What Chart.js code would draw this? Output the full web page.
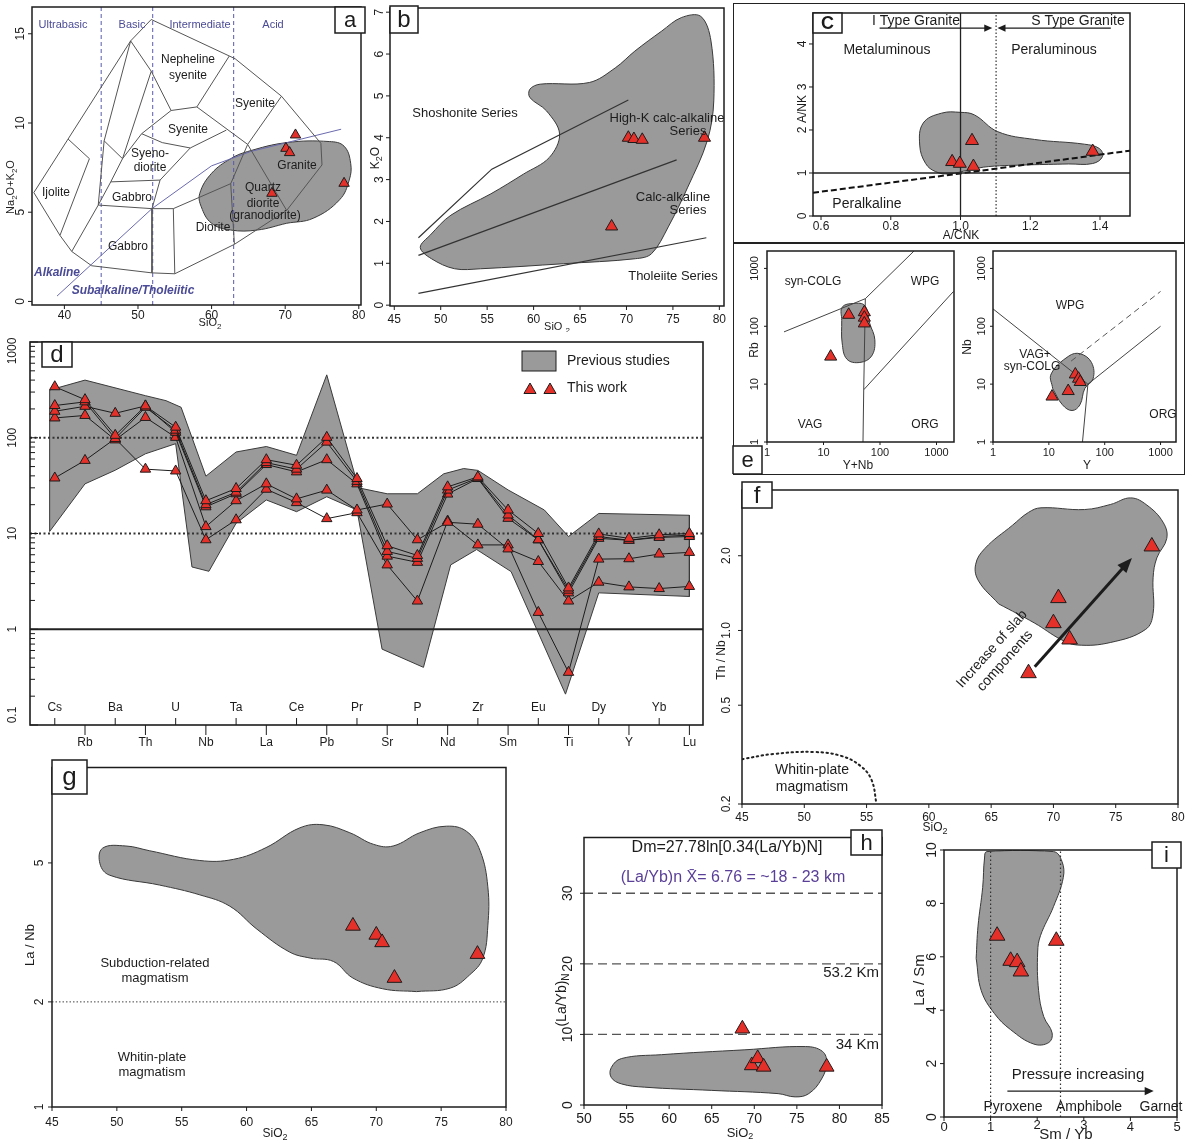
<!DOCTYPE html>
<html><head><meta charset="utf-8">
<script src="https://cdn.jsdelivr.net/npm/chart.js@4.4.1/dist/chart.umd.min.js"></script>
<style>
html,body{margin:0;padding:0;background:#fff}
body{width:1190px;height:1146px;position:relative;overflow:hidden}
canvas{position:absolute}
.fr{position:absolute;box-sizing:border-box;border:1.5px solid #222}
</style></head><body>
<div class="fr" style="left:733px;top:3px;width:452px;height:472px"></div>
<div style="position:absolute;left:733px;top:242px;width:452px;height:1.5px;background:#222"></div>
<script>
// ================= DATA =================
// (a) TAS diagram
const A_SIO2 = [68.2, 70.1, 70.6, 71.4, 78.0];
const A_ALK  = [6.06, 8.58, 8.34, 9.33, 6.62];
const A_FIELD = [[70.2,4.38],[66.2,4.0],[62.6,4.0],[60.0,4.38],[58.6,5.3],[58.4,6.06],[60.0,7.18],[62.6,8.0],[64.9,8.4],[70.2,8.9],[76.0,8.96],[78.0,8.7],[78.9,7.74],[78.7,6.8],[77.4,5.7],[73.8,4.66]];
const A_TAS = [
 [[35.85,6.1],[40.5,9.1],[49.0,14.6],[51.8,15.8],[63.2,13.6],[69.5,11.5],[74.85,8.86],[75.0,7.65],[70.2,5.1],[63.1,3.2],[55.0,1.55],[51.9,1.6],[43.7,2.0],[41.0,2.8],[39.4,3.7],[35.85,6.1]],
 [[40.5,9.1],[43.4,8.0],[39.4,3.7]],
 [[49.0,14.6],[45.4,9.0],[44.6,5.4],[41.0,2.8]],
 [[45.4,9.0],[47.9,8.0]],
 [[51.8,12.9],[47.9,8.0],[46.3,6.7],[44.6,5.4]],
 [[49.0,14.6],[51.8,12.9],[54.5,10.7],[58.0,10.9],[64.9,8.8]],
 [[58.0,10.9],[62.4,13.75]],
 [[69.5,11.5],[64.9,8.8],[70.2,5.1]],
 [[64.9,8.8],[62.6,6.6],[63.1,3.2]],
 [[54.5,10.7],[50.5,9.4],[47.9,8.0]],
 [[50.5,9.4],[53.3,8.9],[57.1,8.6],[62.0,9.6]],
 [[57.1,8.6],[53.0,6.8],[51.9,5.2]],
 [[46.3,6.7],[53.0,6.8]],
 [[44.6,5.4],[51.9,5.2],[54.8,5.2],[62.6,6.6]],
 [[51.9,5.2],[51.9,1.6]],
 [[54.8,5.2],[55.0,1.55]]
];
const A_ALK_LINE = [[39.0,0.3],[51.9,5.2],[60.0,7.6],[65.3,8.4],[77.6,9.65]];
const A_DIVS = [45, 52, 63];
const A_XT = [40,50,60,70,80], A_YT = [0,5,10,15];

// (b) K2O vs SiO2
const B_SIO2 = [68.4, 70.2, 70.8, 71.7, 78.4];
const B_K2O  = [1.88, 4.0, 3.97, 3.95, 4.0];
const B_FIELD = [[63.2,0.99],[54.3,0.87],[51.5,0.87],[49.0,1.11],[47.8,1.38],[48.9,1.68],[51.1,2.15],[55.4,2.66],[58.9,3.13],[61.7,3.53],[62.8,4.09],[61.4,4.64],[59.6,4.96],[59.6,5.16],[60.7,5.28],[66.0,5.32],[68.8,5.67],[70.9,6.07],[73.8,6.55],[75.9,6.87],[78.0,6.9],[79.1,6.31],[79.4,4.88],[78.7,3.93],[76.6,2.82],[74.5,1.87],[72.7,1.23],[70.96,1.11]];
const B_LINES = [[[47.6,1.61],[55.5,3.25],[70.2,4.9]],[[47.6,1.19],[75.4,3.47]],[[47.6,0.28],[78.6,1.61]]];
const B_XT = [45,50,55,60,65,70,75,80], B_YT = [0,1,2,3,4,5,6,7];

// (c) A/NK vs A/CNK
const C_ACNK = [0.976, 0.998, 1.033, 1.037, 1.379];
const C_ANK  = [1.26, 1.22, 1.75, 1.15, 1.5];
const C_FIELD = [[1.195,1.19],[1.081,1.15],[1.024,1.07],[0.967,0.98],[0.929,1.03],[0.9,1.22],[0.883,1.65],[0.893,2.16],[0.945,2.39],[1.0,2.41],[1.04,2.35],[1.107,1.96],[1.212,1.78],[1.355,1.67],[1.398,1.57],[1.407,1.38],[1.379,1.22],[1.31,1.21]];
const C_DASH = [[0.577,0.54],[1.0,0.99],[1.486,1.52]];
const C_XT = [0.6,0.8,1.0,1.2,1.4], C_YT = [0,1,2,3,4];

// (d) spider diagram
const D_ELEMENTS = ['Cs','Rb','Ba','Th','U','Nb','Ta','La','Ce','Pb','Pr','Sr','P','Nd','Zr','Sm','Eu','Ti','Dy','Y','Yb','Lu'];
const D_S1 = [341,250,106,215,129,22,29.5,59,51.6,101,37.5,7.45,5.9,30.7,39,17.6,10,2.7,9.9,8.9,9.7,10];
const D_S2 = [217,237,98,208,120,20,27,55,47,90,35,6.5,5.5,28.4,38,15.6,8.6,2.56,9.3,8.5,9.1,9.3];
const D_S3 = [189,213,180,215,114,19,26,52.5,44,59,33,5.8,5.0,25.8,37.5,14.4,8.6,2.4,8.9,8.5,9.3,9.6];
const D_S4 = [161,171,95,163,101,11.8,22,33,23,28.4,17.6,20.3,8.6,13.1,12.5,6.9,5.1,1.97,3.1,2.77,2.66,2.8];
const D_S5 = [38,58,98,47,45,8.6,13.9,29,21,14.3,16.5,4.7,1.97,13.5,7.6,7.6,1.5,0.355,5.4,5.45,6.1,6.35];
const D_UPPER = [[-0.17,315],[1,400],[3,275],[3.68,244],[4.18,208],[5,39.7],[6,71],[7,81],[8,65.6],[9,454],[10.05,30],[11,26],[12,26],[12.87,42],[13.53,47.7],[14,45.6],[15,28.5],[16.2,17.6],[17,9.3],[18,16.2],[21,15.5]];
const D_LOWER = [[-0.17,10.5],[1,33],[2,45.8],[3,68],[4,86.7],[4.54,4.47],[5.1,4.03],[6,12.8],[7,22.4],[8,16.9],[9,24.2],[10,17.6],[10.83,0.62],[12.2,0.4],[13.1,4.7],[13.96,6.8],[15.1,4.0],[16.9,0.21],[18,2.4],[21,2.2]];
const D_YT = [0.1,1,10,100,1000];
const D_REF = [100, 10];

// (e) Pearce discrimination
const E1_YNB = [27.9, 52.8, 52.8, 52.8, 13.4];
const E1_RB  = [158, 175, 141, 112, 29.9];
const E1_FIELD = [[21,126],[21.4,214],[34,248],[54,227],[66,111],[81,58.5],[71,30.6],[44,23.7],[26,27],[21.4,51.5]];
const E1_LINES = [[[2,80],[55,300]],[[55,300],[400,2000]],[[55,300],[51.5,8],[50,1]],[[51.5,8],[2000,400]]];
const E2_Y  = [11.4, 22.2, 29.8, 34, 36.4];
const E2_NB = [6.1, 7.6, 14.7, 12.4, 10.9];
const E2_FIELD = [[11.7,8.4],[11,15],[22.8,30.6],[36.4,33.5],[58,23.7],[62,12.4],[44,8.4],[36,4.4],[26,3.5],[17.5,4.4]];
const E2_LINES = [[[1,200],[50,10]],[[50,10],[1000,100]],[[50,10],[40,1]]];
const E2_DASH = [[25,25],[1000,400]];
const E_T = [1,10,100,1000];

// (f) Th/Nb vs SiO2
const F_SIO2 = [68.0, 70.0, 70.4, 71.3, 77.9];
const F_THNB = [0.673, 1.07, 1.35, 0.92, 2.18];
const F_FIELD = [[65.6,1.28],[64.0,1.58],[63.75,1.84],[64.5,2.14],[66.7,2.65],[68.0,2.99],[69.0,3.12],[72.5,3.07],[74.6,3.22],[76.2,3.42],[77.5,3.2],[78.8,2.73],[79.1,2.35],[78.3,1.96],[78.0,1.63],[78.0,1.17],[77.4,1.01],[74.6,0.895],[71.9,0.874],[70.6,0.92],[68.5,1.07]];
const F_WPM = [[45,0.303],[47.5,0.318],[50.8,0.324],[53,0.312],[54.5,0.285],[55.4,0.25],[55.8,0.2]];
const F_ARROW = [[68.5,0.715],[76.3,1.96]];
const F_XT = [45,50,55,60,65,70,75,80], F_YT = [0.2,0.5,1.0,2.0];

// (g) La/Nb vs SiO2
const G_SIO2 = [68.2, 70.0, 70.45, 71.4, 77.8];
const G_LANB = [3.3, 3.11, 2.96, 2.34, 2.74];
const G_FIELD = [[73.1,2.14],[70.5,2.18],[68.2,2.34],[66.7,2.61],[64.9,2.67],[63.3,2.78],[60.8,3.23],[58.7,3.76],[56.4,4.05],[53.3,4.32],[49.45,4.61],[48.7,4.97],[48.9,5.51],[50.7,5.59],[52.5,5.42],[56.4,5.08],[59.0,5.12],[61.5,5.53],[64.1,6.3],[65.9,6.43],[67.96,6.1],[69.8,5.65],[71.3,5.59],[73.35,6.1],[75.4,6.37],[76.95,6.16],[78.0,5.42],[78.6,4.27],[78.6,3.3],[78.2,2.66],[77.2,2.39],[75.7,2.19]];
const G_LIMIT = 2;
const G_XT = [45,50,55,60,65,70,75,80], G_YT = [1,2,5];

// (h) (La/Yb)N vs SiO2
const H_SIO2 = [68.6, 69.7, 70.4, 71.1, 78.5];
const H_LAYB = [10.8, 5.6, 6.6, 5.4, 5.4];
const H_FIELD = [[65.0,2.07],[57.1,2.53],[54.4,2.99],[53.2,3.91],[53.2,5.29],[54.4,6.58],[59.1,7.13],[68.9,7.82],[76.0,8.28],[78.0,7.6],[78.5,5.98],[77.9,3.68],[76.4,1.61],[74.8,1.15],[72.8,1.61]];
const H_DEPTHS = [10, 20, 30];
const H_XT = [50,55,60,65,70,75,80,85], H_YT = [0,10,20,30];

// (i) La/Sm vs Sm/Yb
const I_SMYB = [1.14, 1.43, 1.57, 1.65, 2.41];
const I_LASM = [6.79, 5.85, 5.8, 5.45, 6.6];
const I_FIELD = [[0.69,5.94],[0.73,7.15],[0.83,8.6],[0.87,9.7],[0.92,9.94],[2.35,9.94],[2.53,9.58],[2.56,8.97],[2.35,7.88],[2.07,6.79],[2.01,6.18],[2.03,4.73],[2.14,3.76],[2.32,3.15],[2.25,2.79],[1.93,2.73],[1.43,3.27],[1.08,3.88],[0.8,4.73]];
const I_DIVS = [1, 2.5];
const I_ARROW = [[1.36,0.97],[4.5,0.97]];
const I_XT = [0,1,2,3,4,5], I_YT = [0,2,4,6,8,10];

// ================= HELPERS =================
const FAM = "'Liberation Sans', Arial, Helvetica, sans-serif";
const RED = '#e5302a', FIELD = '#9a9a9a', INK = '#1c1c1c', PURPLE = '#4a4a96';

const P = arr => arr.map(([x,y]) => ({x, y}));
const zip = (xs, ys) => xs.map((x,i) => ({x, y: ys[i]}));
function dsField(pts, tension){ const d = P(pts); d.push({...d[0]});
  return {data:d, showLine:true, fill:'shape', backgroundColor:FIELD, borderColor:'#3a3a3a', borderWidth:1, pointRadius:0, pointHoverRadius:0, tension:(tension===undefined?0.4:tension), order:9}; }
function dsLine(pts, o){ return Object.assign({data:P(pts), showLine:true, fill:false, borderColor:'#4a4a4a', borderWidth:1, pointRadius:0, pointHoverRadius:0, tension:0, order:5}, o||{}); }
function dsTri(xs, ys, r){ return {data:zip(xs,ys), showLine:false, pointStyle:'triangle', pointRadius:r, pointHoverRadius:r, backgroundColor:RED, borderColor:INK, borderWidth:1, order:0}; }

function rich(ctx, s, x, y, size, align, pre){
  const parts = []; const re = /_\{([^}]*)\}/g; let last = 0, m;
  while ((m = re.exec(s))) { if (m.index > last) parts.push({t:s.slice(last, m.index), sub:0}); parts.push({t:m[1], sub:1}); last = re.lastIndex; }
  if (last < s.length) parts.push({t:s.slice(last), sub:0});
  const f = p => ((pre||'') + ' ' + (p.sub ? Math.round(size*0.72) : size) + 'px ' + FAM).trim();
  let w = 0; parts.forEach(p => { ctx.font = f(p); p.w = ctx.measureText(p.t).width; w += p.w; });
  let cx = align === 'center' ? x - w/2 : align === 'right' ? x - w : x;
  ctx.textAlign = 'left'; ctx.textBaseline = 'middle';
  parts.forEach(p => { ctx.font = f(p); ctx.fillText(p.t, cx, y + (p.sub ? size*0.3 : 0)); cx += p.w; });
}

function G(ch, ox, oy){
  const ctx = ch.ctx, a = ch.chartArea, sx = ch.scales.x, sy = ch.scales.y;
  const X = v => sx.getPixelForValue(v), Y = v => sy.getPixelForValue(v);
  return {
    ctx, a, X, Y, ox, oy,
    text(s, px, py, o){ o = o||{}; ctx.save(); ctx.fillStyle = o.color||INK; ctx.translate(px-ox, py-oy); if (o.rot) ctx.rotate(o.rot);
      rich(ctx, s, 0, 0, o.size||12, o.align||'center', o.pre||''); ctx.restore(); },
    frame(w){ ctx.save(); ctx.strokeStyle = INK; ctx.lineWidth = w||1.5; ctx.strokeRect(a.left, a.top, a.right-a.left, a.bottom-a.top); ctx.restore(); },
    yticks(vals, labs, o){ o = o||{}; const len = o.len===undefined?4:o.len, dx = o.dx===undefined?10:o.dx, size = o.size||12;
      ctx.save(); ctx.strokeStyle = INK; ctx.fillStyle = INK; ctx.lineWidth = 1;
      vals.forEach((v,i) => { const y = Y(v); ctx.beginPath(); ctx.moveTo(a.left, y); ctx.lineTo(a.left + (o.inside?len:-len), y); ctx.stroke();
        ctx.save(); ctx.translate(a.left-dx, y + ((o.shift&&o.shift[i])||0)); ctx.rotate(-Math.PI/2); rich(ctx, String(labs[i]), 0, 0, size, 'center', ''); ctx.restore(); });
      ctx.restore(); },
    xticks(vals, labs, o){ o = o||{}; const len = o.len===undefined?4:o.len, dy = o.dy===undefined?12:o.dy, size = o.size||12;
      ctx.save(); ctx.strokeStyle = INK; ctx.fillStyle = INK; ctx.lineWidth = 1;
      vals.forEach((v,i) => { const x = X(v); ctx.beginPath(); ctx.moveTo(x, a.bottom); ctx.lineTo(x, a.bottom+len); ctx.stroke();
        if (labs && labs[i] !== '') rich(ctx, String(labs[i]), x, a.bottom+dy+((o.shift&&o.shift[i])||0), size, 'center', ''); });
      ctx.restore(); },
    box(letter, x0, y0, x1, y1, size, pre){ ctx.save(); ctx.fillStyle = '#fff'; ctx.strokeStyle = INK; ctx.lineWidth = 1.5;
      ctx.fillRect(x0-ox, y0-oy, x1-x0, y1-y0); ctx.strokeRect(x0-ox, y0-oy, x1-x0, y1-y0);
      ctx.fillStyle = INK; ctx.font = ((pre||'') + ' ' + (size||22) + 'px ' + FAM).trim(); ctx.textAlign = 'center'; ctx.textBaseline = 'middle';
      ctx.fillText(letter, (x0+x1)/2-ox, (y0+y1)/2-oy+1); ctx.restore(); },
    rect(x0, y0, x1, y1, fill){ ctx.save(); ctx.fillStyle = fill; ctx.strokeStyle = INK; ctx.lineWidth = 1;
      ctx.fillRect(x0-ox, y0-oy, x1-x0, y1-y0); ctx.strokeRect(x0-ox, y0-oy, x1-x0, y1-y0); ctx.restore(); },
    arrow(p, q, o){ o = o||{}; const x1 = X(p[0]), y1 = Y(p[1]), x2 = X(q[0]), y2 = Y(q[1]); const w = o.w||1, h = o.head||8, hw = o.hw||0.45;
      const an = Math.atan2(y2-y1, x2-x1), c = Math.cos(an), s = Math.sin(an);
      ctx.save(); ctx.strokeStyle = INK; ctx.fillStyle = INK; ctx.lineWidth = w;
      ctx.beginPath(); ctx.moveTo(x1, y1); ctx.lineTo(x2 - c*h*0.7, y2 - s*h*0.7); ctx.stroke();
      ctx.beginPath(); ctx.moveTo(x2, y2); ctx.lineTo(x2 - h*c + h*hw*s, y2 - h*s - h*hw*c); ctx.lineTo(x2 - h*c - h*hw*s, y2 - h*s + h*hw*c); ctx.closePath(); ctx.fill(); ctx.restore(); },
    ang(p, q){ return Math.atan2(Y(q[1])-Y(p[1]), X(q[0])-X(p[0])); },
    tri(px, py, r){ const x = px-ox, y = py-oy; ctx.save(); ctx.fillStyle = RED; ctx.strokeStyle = INK; ctx.lineWidth = 1;
      ctx.beginPath(); ctx.moveTo(x, y-r); ctx.lineTo(x + r*0.866, y + r/2); ctx.lineTo(x - r*0.866, y + r/2); ctx.closePath(); ctx.fill(); ctx.stroke(); ctx.restore(); }
  };
}

function panel(cfg){
  const [x0,y0,x1,y1] = cfg.plot, [l,t,r,b] = cfg.mar;
  const W = Math.round(x1-x0+l+r), H = Math.round(y1-y0+t+b), ox = x0-l, oy = y0-t;
  const cv = document.createElement('canvas');
  cv.width = W; cv.height = H;
  cv.style.left = ox+'px'; cv.style.top = oy+'px'; cv.style.width = W+'px'; cv.style.height = H+'px';
  document.body.appendChild(cv);
  return new Chart(cv, {type:'scatter', data:{datasets:cfg.datasets}, options:{
    responsive:false, maintainAspectRatio:false, animation:false, devicePixelRatio:1, events:[],
    layout:{padding:{left:l, top:t, right:r, bottom:b}},
    plugins:{legend:{display:false}, tooltip:{enabled:false}},
    scales:{x:Object.assign({display:false, type:'linear'}, cfg.x), y:Object.assign({display:false, type:'linear'}, cfg.y)}
  }, plugins:[{id:'deco', afterDatasetsDraw(ch){ cfg.draw(G(ch, ox, oy)); }}]});
}

// ================= PANEL a =================
panel({plot:[32,7,365,305], mar:[32,7,3,25],
  x:{min:35.6, max:80.3}, y:{min:-0.2, max:16.5},
  datasets:[dsField(A_FIELD),
    ...A_TAS.map(l => dsLine(l, {borderColor:'#555'})),
    dsLine(A_ALK_LINE, {borderColor:'#6a6aae'}),
    ...A_DIVS.map(v => dsLine([[v,-0.2],[v,16.5]], {borderColor:'#5a5aae', borderDash:[4,3]})),
    dsTri(A_SIO2, A_ALK, 6)],
  draw(g){
    g.frame(1.5);
    g.yticks(A_YT, A_YT, {dx:11, size:12});
    g.xticks(A_XT, A_XT, {dy:11, size:12});
    [['Ultrabasic',63],['Basic',132],['Intermediate',200],['Acid',273]].forEach(([s,x]) => g.text(s, x, 25, {size:11, color:PURPLE}));
    [['Nepheline',188,60],['syenite',188,76],['Syenite',255,104],['Syenite',188,130],['Syeno-',150,154],['diorite',150,168],
     ['Ijolite',56,193],['Gabbro',132,198],['Granite',297,166],['Quartz',263,188],['diorite',263,204],['(granodiorite)',265,216],
     ['Diorite',213,228],['Gabbro',128,247]].forEach(([s,x,y]) => g.text(s, x, y, {size:12}));
    g.text('Alkaline', 57, 273, {size:12, color:PURPLE, pre:'italic bold'});
    g.text('Subalkaline/Tholeiitic', 133, 291, {size:12, color:PURPLE, pre:'italic bold'});
    g.text('Na_{2}O+K_{2}O', 11, 187, {size:11, rot:-Math.PI/2});
    g.text('SiO_{2}', 210, 323, {size:11});
    g.box('a', 335, 7, 365, 33, 22);
  }});

// ================= PANEL b =================
panel({plot:[390,6,728,306], mar:[25,6,4,26],
  x:{min:44.54, max:80.5}, y:{min:-0.02, max:7.1},
  datasets:[dsField(B_FIELD, 0.35),
    ...B_LINES.map(l => dsLine(l, {borderColor:'#333', borderWidth:1.2})),
    dsTri(B_SIO2, B_K2O, 7)],
  draw(g){
    g.frame(1.5);
    g.yticks(B_YT, B_YT, {dx:10, size:12});
    g.xticks(B_XT, B_XT, {dy:14, size:12});
    g.text('Shoshonite Series', 465, 113, {size:13});
    g.text('High-K calc-alkaline', 667, 118, {size:13});
    g.text('Series', 688, 131, {size:13});
    g.text('Calc-alkaline', 673, 197, {size:13});
    g.text('Series', 688, 210, {size:13});
    g.text('Tholeiite Series', 673, 276, {size:13});
    g.text('K_{2}O', 376, 158, {size:12, rot:-Math.PI/2});
    g.text('SiO _{2}', 557, 327, {size:11});
    g.box('b', 390, 6, 418, 33, 24);
  }});

// ================= PANEL c =================
panel({plot:[813,13,1130,216], mar:[45,13,52,26],
  x:{min:0.577, max:1.486}, y:{min:0, max:4.72},
  datasets:[dsField(C_FIELD),
    dsLine([[1,0],[1,4.72]], {borderColor:'#222', borderWidth:1.3}),
    dsLine([[0.577,1],[1.486,1]], {borderColor:'#222', borderWidth:1.3}),
    dsLine([[1.102,0],[1.102,4.72]], {borderColor:'#333', borderWidth:1.2, borderDash:[1.5,2]}),
    dsLine(C_DASH, {borderColor:'#111', borderWidth:2, borderDash:[6,3]}),
    dsTri(C_ACNK, C_ANK, 7.5)],
  draw(g){
    g.frame(1.5);
    g.yticks(C_YT, C_YT, {dx:10, size:12});
    g.xticks(C_XT, C_XT.map(v => v.toFixed(1)), {dy:11, size:12});
    g.arrow([0.768,4.37],[1.091,4.37], {w:1.2, head:8});
    g.arrow([1.431,4.37],[1.106,4.37], {w:1.2, head:8});
    g.text('I Type Granite', 916, 21, {size:14});
    g.text('S Type Granite', 1078, 21, {size:14});
    g.text('Metaluminous', 887, 50, {size:14});
    g.text('Peraluminous', 1054, 50, {size:14});
    g.text('Peralkaline', 867, 204, {size:14});
    g.text('A/NK', 803, 109, {size:12, rot:-Math.PI/2});
    g.text('A/CNK', 961, 236, {size:12});
    g.box('C', 813, 13, 842, 33, 18, 'bold');
  }});

// ================= PANEL e (left) =================
panel({plot:[767,245,958,442], mar:[36,2,4,32],
  x:{type:'logarithmic', min:1, max:2040}, y:{type:'logarithmic', min:1, max:2000},
  datasets:[dsField(E1_FIELD),
    ...E1_LINES.map(l => dsLine(l, {borderColor:'#444'})),
    dsTri(E1_YNB, E1_RB, 7)],
  draw(g){
    g.frame(1.5);
    g.yticks(E_T, E_T, {dx:12, size:11, len:3});
    g.xticks(E_T, E_T, {dy:11, size:11, len:3});
    g.text('syn-COLG', 813, 282, {size:12});
    g.text('WPG', 925, 282, {size:12});
    g.text('VAG', 810, 425, {size:12});
    g.text('ORG', 925, 425, {size:12});
    g.text('Rb', 755, 350, {size:12, rot:-Math.PI/2});
    g.text('Y+Nb', 858, 466, {size:12});
    g.box('e', 733, 446, 762, 474, 22);
  }});

// ================= PANEL e (right) =================
panel({plot:[993,245,1182,442], mar:[35,2,2,32],
  x:{type:'logarithmic', min:1, max:1890}, y:{type:'logarithmic', min:1, max:2000},
  datasets:[dsField(E2_FIELD),
    ...E2_LINES.map(l => dsLine(l, {borderColor:'#444'})),
    dsLine(E2_DASH, {borderColor:'#555', borderDash:[6,4]}),
    dsTri(E2_Y, E2_NB, 7)],
  draw(g){
    g.frame(1.5);
    g.yticks(E_T, E_T, {dx:11, size:11, len:3});
    g.xticks(E_T, E_T, {dy:11, size:11, len:3});
    g.text('WPG', 1070, 306, {size:12});
    g.text('VAG+', 1035, 355, {size:12});
    g.text('syn-COLG', 1032, 367, {size:12});
    g.text('ORG', 1163, 415, {size:12});
    g.text('Nb', 968, 347, {size:12, rot:-Math.PI/2});
    g.text('Y', 1087, 466, {size:12});
  }});

// ================= PANEL d =================
const D_SERIES = [D_S1, D_S2, D_S3, D_S4, D_S5];
panel({plot:[30,340,707,725], mar:[30,5,3,25],
  x:{min:-0.82, max:21.45}, y:{type:'logarithmic', min:0.1, max:1000},
  datasets:[dsField(D_UPPER.concat(D_LOWER.slice().reverse()), 0),
    ...D_REF.map(v => dsLine([[-0.82,v],[21.45,v]], {borderColor:'#333', borderWidth:2, borderDash:[2,2.5], order:6})),
    dsLine([[-0.82,1],[21.45,1]], {borderColor:'#222', borderWidth:2, order:6}),
    ...D_SERIES.map(s => ({data:s.map((v,i) => ({x:i, y:v})), showLine:true, fill:false, tension:0, borderColor:INK, borderWidth:1,
       pointStyle:'triangle', pointRadius:6, pointHoverRadius:6, backgroundColor:RED, order:1}))],
  draw(g){
    const {ctx, a, X, Y} = g;
    g.frame(1.6);
    ctx.save(); ctx.strokeStyle = INK; ctx.fillStyle = INK; ctx.lineWidth = 1;
    for (let e = -1; e < 3; e++) for (let k = 2; k <= 9; k++) { const y = Y(k*Math.pow(10,e)); ctx.beginPath(); ctx.moveTo(a.left, y); ctx.lineTo(a.left+5, y); ctx.stroke(); }
    D_ELEMENTS.forEach((el,i) => { const x = X(i); ctx.beginPath();
      if (i % 2 === 0) { ctx.moveTo(x, a.bottom); ctx.lineTo(x, a.bottom-7); } else { ctx.moveTo(x, a.bottom); ctx.lineTo(x, a.bottom+10); }
      ctx.stroke();
      rich(ctx, el, x, i % 2 === 0 ? a.bottom-17 : a.bottom+18, 12, 'center', ''); });
    ctx.restore();
    g.yticks(D_YT, ['0.1','1','10','100','1000'], {dx:17, size:12, len:8, inside:true, shift:[-10,0,0,0,9]});
    // legend
    g.rect(522, 351, 556, 371, FIELD);
    g.tri(530, 390, 7); g.tri(550, 390, 7);
    g.text('Previous studies', 567, 361, {size:14, align:'left'});
    g.text('This work', 567, 388, {size:14, align:'left'});
    g.box('d', 42, 342, 72, 367, 24);
  }});

// ================= PANEL f =================
panel({plot:[742,482,1183,804], mar:[28,2,5,30],
  x:{min:45, max:80}, y:{type:'logarithmic', min:0.2, max:3.68},
  datasets:[dsField(F_FIELD),
    dsLine(F_WPM, {borderColor:'#222', borderWidth:2, borderDash:[1.5,3.5], borderCapStyle:'round', tension:0.4}),
    dsTri(F_SIO2, F_THNB, 9)],
  draw(g){
    g.frame(1.5);
    g.yticks(F_YT, ['0.2','0.5','1.0','2.0'], {dx:15, size:12});
    g.xticks(F_XT, F_XT, {dy:14, size:12});
    g.arrow(F_ARROW[0], F_ARROW[1], {w:3, head:15, hw:0.4});
    const an = g.ang(F_ARROW[0], F_ARROW[1]);
    g.text('Increase of slab', 992, 649, {size:14, rot:an});
    g.text('components', 1005, 661, {size:14, rot:an});
    g.text('Whitin-plate', 812, 770, {size:14});
    g.text('magmatism', 812, 787, {size:14});
    g.text('Th / Nb', 722, 660, {size:12, rot:-Math.PI/2});
    g.text('SiO_{2}', 935, 828, {size:12});
    g.box('f', 742, 482, 772, 508, 24);
  }});

// ================= PANEL g =================
panel({plot:[52,760,506,1107], mar:[40,2,10,35],
  x:{min:45, max:80}, y:{type:'logarithmic', min:1, max:9.38},
  datasets:[dsField(G_FIELD),
    dsLine([[45,G_LIMIT],[80,G_LIMIT]], {borderColor:'#444', borderDash:[1.5,2]}),
    dsTri(G_SIO2, G_LANB, 8.5)],
  draw(g){
    g.frame(1.5);
    g.yticks(G_YT, G_YT, {dx:12, size:12});
    g.xticks(G_XT, G_XT, {dy:16, size:12});
    g.text('Subduction-related', 155, 963, {size:13});
    g.text('magmatism', 155, 978, {size:13});
    g.text('Whitin-plate', 152, 1057, {size:13});
    g.text('magmatism', 152, 1072, {size:13});
    g.text('La / Nb', 30, 945, {size:13, rot:-Math.PI/2});
    g.text('SiO_{2}', 275, 1134, {size:12});
    g.box('g', 52, 760, 87, 794, 26);
  }});

// ================= PANEL h =================
panel({plot:[584,830,882,1105], mar:[45,2,10,38],
  x:{min:50, max:85}, y:{min:0, max:37.9},
  datasets:[dsField(H_FIELD),
    ...H_DEPTHS.map(v => dsLine([[50,v],[85,v]], {borderColor:'#555', borderWidth:1.3, borderDash:[9,5]})),
    dsTri(H_SIO2, H_LAYB, 8.5)],
  draw(g){
    g.frame(1.5);
    g.yticks(H_YT, H_YT, {dx:16, size:14});
    g.xticks(H_XT, H_XT, {dy:14, size:14});
    g.text('Dm=27.78ln[0.34(La/Yb)N]', 727, 848, {size:16});
    g.text('(La/Yb)n X\u0304= 6.76 = ~18 - 23 km', 733, 878, {size:16, color:'#5a3f98'});
    g.text('53.2 Km', 879, 973, {size:15, align:'right'});
    g.text('34 Km', 879, 1045, {size:15, align:'right'});
    g.text('(La/Yb)_{N}', 562, 1000, {size:14, rot:-Math.PI/2});
    g.text('SiO_{2}', 740, 1133, {size:13});
    g.box('h', 851, 830, 882, 855, 22);
  }});

// ================= PANEL i =================
panel({plot:[944,842,1181,1117], mar:[34,2,6,26],
  x:{min:0, max:5}, y:{min:0, max:10},
  datasets:[dsField(I_FIELD),
    ...I_DIVS.map(v => dsLine([[v,0],[v,10]], {borderColor:'#333', borderWidth:1.2, borderDash:[1.5,2.5]})),
    dsTri(I_SMYB, I_LASM, 9)],
  draw(g){
    g.frame(1.5);
    g.yticks(I_YT, I_YT, {dx:12, size:14});
    g.xticks(I_XT, I_XT, {dy:10, size:13, shift:[0,0,-2,-2,0,0]});
    g.arrow(I_ARROW[0], I_ARROW[1], {w:1.3, head:9});
    g.text('Pressure increasing', 1078, 1075, {size:15});
    g.text('Pyroxene', 1013, 1107, {size:14});
    g.text('Amphibole', 1089, 1107, {size:14});
    g.text('Garnet', 1161, 1107, {size:14});
    g.text('La / Sm', 920, 980, {size:15, rot:-Math.PI/2});
    g.text('Sm / Yb', 1066, 1135, {size:15});
    g.box('i', 1152, 842, 1181, 868, 22);
  }});
</script>
</body></html>
